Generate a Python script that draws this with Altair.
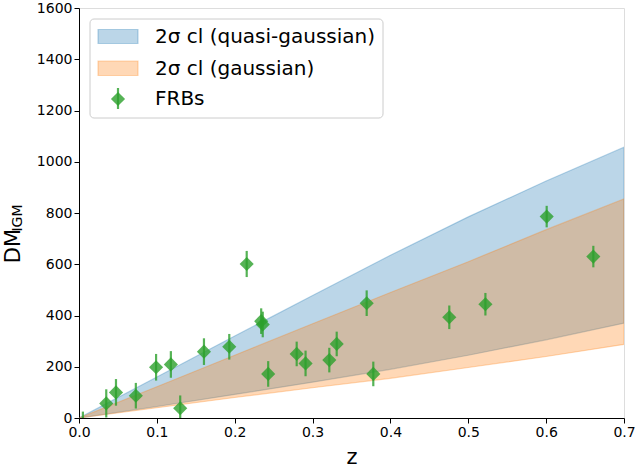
import altair as alt
import pandas as pd

# Bands
band_z = [0.0, 0.1, 0.2, 0.3, 0.4, 0.5, 0.6, 0.7]
quasi_lo = [0, 45, 92, 140, 190, 245, 305, 370]
quasi_hi = [0, 160, 320, 478, 635, 785, 925, 1057]
gauss_lo = [0, 40, 80, 118, 155, 197, 240, 287]
gauss_hi = [0, 122, 245, 368, 490, 610, 735, 855]

# FRBs
frb_z = [0.005, 0.035, 0.0475, 0.073, 0.099, 0.118, 0.130, 0.1605, 0.193, 0.2154,
         0.234, 0.236, 0.243, 0.2796, 0.291, 0.3215, 0.331, 0.3695, 0.378,
         0.4756, 0.522, 0.6007, 0.6606]
frb_dm = [-25, 57, 100, 87, 198, 209, 38, 259, 278, 601,
          378, 365, 172, 250, 213, 226, 289, 448, 172,
          393, 444, 786, 630]
frb_err = [50, 55, 52, 50, 52, 52, 50, 52, 50, 51,
           50, 50, 50, 48, 50, 48, 48, 50, 48,
           46, 44, 42, 42]

bands = pd.DataFrame({"z": band_z, "qlo": quasi_lo, "qhi": quasi_hi,
                      "glo": gauss_lo, "ghi": gauss_hi})
frbs = pd.DataFrame({"z": frb_z, "dm": frb_dm, "err": frb_err})
frbs["lo"] = frbs["dm"] - frbs["err"]
frbs["hi"] = frbs["dm"] + frbs["err"]

BLUE = "#1f77b4"
ORANGE = "#ff7f0e"
GREEN = "#2ca02c"
FONT = "DejaVu Sans"

xs = alt.Scale(domain=[0, 0.7], nice=False, zero=False)
ys = alt.Scale(domain=[0, 1600], nice=False)

xax = alt.Axis(values=[0, 0.1, 0.2, 0.3, 0.4, 0.5, 0.6, 0.7], format=".1f",
               title="z", titleFontSize=21, titleFont=FONT, titleFontWeight="normal",
               titleColor="black", titlePadding=7,
               labelFontSize=14, labelFont=FONT, labelColor="black",
               tickColor="black", tickSize=5, domainColor="black", grid=False,
               labelFlush=False)
yax = alt.Axis(values=list(range(0, 1601, 200)), format="d", title=None,
               labelFontSize=14, labelFont=FONT, labelColor="black",
               tickColor="black", tickSize=5, domainColor="black", grid=False)

base = alt.Chart(bands)
quasi = base.mark_area(fill=BLUE, fillOpacity=0.3, stroke=BLUE, strokeOpacity=0.3,
                       strokeWidth=1.2, clip=True).encode(
    x=alt.X("z:Q", scale=xs, axis=xax),
    y=alt.Y("qlo:Q", scale=ys, axis=yax),
    y2="qhi:Q")
gauss = base.mark_area(fill=ORANGE, fillOpacity=0.3, stroke=ORANGE, strokeOpacity=0.3,
                       strokeWidth=1.2, clip=True).encode(
    x=alt.X("z:Q", scale=xs), y=alt.Y("glo:Q", scale=ys), y2="ghi:Q")

fb = alt.Chart(frbs)
errs = fb.mark_rule(color=GREEN, strokeWidth=2.2, opacity=0.8, clip=True).encode(
    x=alt.X("z:Q", scale=xs), y=alt.Y("lo:Q", scale=ys), y2="hi:Q")
pts = fb.mark_point(shape="diamond", filled=True, color=GREEN, opacity=0.8,
                    size=200, clip=True).encode(
    x=alt.X("z:Q", scale=xs), y=alt.Y("dm:Q", scale=ys))

one = pd.DataFrame({"a": [0]})
c1 = alt.Chart(one)

# y-axis title with subscript
ytitle_dm = c1.mark_text(text="DM", angle=270, fontSize=21, font=FONT, color="black",
                         align="center", baseline="bottom").encode(
    x=alt.value(-55), y=alt.value(238))
ytitle_igm = c1.mark_text(text="IGM", angle=270, fontSize=14, font=FONT, color="black",
                          align="center", baseline="bottom").encode(
    x=alt.value(-54), y=alt.value(210))

# legend
leg_box = c1.mark_rect(fill="white", fillOpacity=0.8, stroke="#cccccc", strokeWidth=1,
                       cornerRadius=4).encode(
    x=alt.value(11), x2=alt.value(304), y=alt.value(11), y2=alt.value(110))
leg_blue = c1.mark_rect(fill=BLUE, fillOpacity=0.3, stroke=BLUE, strokeOpacity=0.3,
                        strokeWidth=1.2).encode(
    x=alt.value(19), x2=alt.value(59), y=alt.value(21.5), y2=alt.value(35.5))
leg_orange = c1.mark_rect(fill=ORANGE, fillOpacity=0.3, stroke=ORANGE, strokeOpacity=0.3,
                          strokeWidth=1.2).encode(
    x=alt.value(19), x2=alt.value(59), y=alt.value(53), y2=alt.value(67.5))
leg_err = c1.mark_rule(color=GREEN, strokeWidth=2.2, opacity=0.8).encode(
    x=alt.value(39), y=alt.value(80), y2=alt.value(101))
leg_pt = c1.mark_point(shape="diamond", filled=True, color=GREEN, opacity=0.8,
                       size=200).encode(x=alt.value(39), y=alt.value(91))
leg_t1 = c1.mark_text(text="2σ cl (quasi-gaussian)", fontSize=20, font=FONT,
                      color="black", align="left", baseline="middle").encode(
    x=alt.value(76), y=alt.value(29))
leg_t2 = c1.mark_text(text="2σ cl (gaussian)", fontSize=20, font=FONT,
                      color="black", align="left", baseline="middle").encode(
    x=alt.value(76), y=alt.value(60.5))
leg_t3 = c1.mark_text(text="FRBs", fontSize=20, font=FONT,
                      color="black", align="left", baseline="middle").encode(
    x=alt.value(76), y=alt.value(91))

chart = alt.layer(
    quasi, gauss, errs, pts, ytitle_dm, ytitle_igm,
    leg_box, leg_blue, leg_orange, leg_err, leg_pt, leg_t1, leg_t2, leg_t3
).properties(
    width=545, height=410,
    padding={"left": 79, "top": 8, "right": 11, "bottom": 54},
    autosize=alt.AutoSizeParams(type="none"),
).configure_view(stroke="black", strokeWidth=1.2).configure(background="white")

chart.save("out.html", embed_options={"renderer": "svg", "actions": False})
